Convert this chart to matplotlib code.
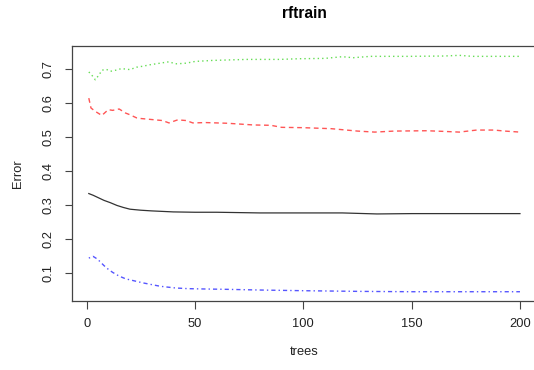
import matplotlib
matplotlib.use("Agg")
import matplotlib.pyplot as plt

plt.rcParams['font.family'] = ['Liberation Sans', 'DejaVu Sans']

# Error rates of the random forest as the number of trees grows
oob_trees = [1, 3, 5, 8, 11, 14, 17, 20, 25, 30, 40, 50, 60, 80, 100, 118, 134, 150, 170, 200]
oob_err = [0.333, 0.328, 0.322, 0.313, 0.306, 0.298, 0.292, 0.287, 0.284, 0.282,
           0.279, 0.278, 0.278, 0.276, 0.276, 0.276, 0.273, 0.274, 0.274, 0.274]

red_trees = [1, 2, 4, 7, 10, 12, 15, 18, 20, 23, 25, 30, 35, 38, 42, 46, 49, 55, 65, 77,
             85, 90, 100, 113, 125, 133, 142, 157, 165, 172, 180, 188, 193, 200]
red_err = [0.614, 0.585, 0.575, 0.563, 0.580, 0.578, 0.582, 0.570, 0.565, 0.556,
           0.554, 0.551, 0.548, 0.541, 0.550, 0.548, 0.541, 0.542, 0.540, 0.535,
           0.534, 0.528, 0.527, 0.524, 0.517, 0.514, 0.517, 0.518, 0.516, 0.514,
           0.520, 0.520, 0.517, 0.514]

green_trees = [1, 2, 4, 6, 7, 9, 11, 14, 16, 20, 23, 26, 29, 34, 38, 41, 44, 46, 50, 58,
               74, 89, 98, 110, 118, 123, 131, 149, 165, 172, 178, 190, 200]
green_err = [0.691, 0.685, 0.668, 0.685, 0.696, 0.699, 0.693, 0.697, 0.701, 0.698,
             0.705, 0.708, 0.712, 0.717, 0.721, 0.715, 0.716, 0.717, 0.722, 0.725,
             0.728, 0.728, 0.730, 0.731, 0.736, 0.733, 0.737, 0.737, 0.738, 0.740,
             0.737, 0.737, 0.737]

blue_trees = [1, 3, 5, 8, 10, 12, 15, 18, 22, 26, 30, 34, 41, 47, 55, 65, 80, 100, 126, 150, 200]
blue_err = [0.143, 0.148, 0.140, 0.121, 0.110, 0.101, 0.090, 0.082, 0.076, 0.070,
            0.065, 0.060, 0.055, 0.053, 0.052, 0.051, 0.049, 0.047, 0.045, 0.044, 0.044]

x_ticks = [0, 50, 100, 150, 200]
y_ticks = [0.1, 0.2, 0.3, 0.4, 0.5, 0.6, 0.7]

fig = plt.figure(figsize=(5.34, 3.70), dpi=100)
ax = fig.add_axes([0.134, 0.186, 0.872, 0.690])

ax.plot(oob_trees, oob_err, color='#333333', lw=0.9)
ax.plot(red_trees, red_err, color='#ff5555', lw=1.0, dashes=(3.4, 2.6))
ax.plot(green_trees, green_err, color='#66dd55', lw=1.0, dashes=(1.0, 2.2))
ax.plot(blue_trees, blue_err, color='#5555ff', lw=1.0, dashes=(1.0, 2.2, 3.0, 2.2))

ax.margins(x=0.04, y=0.04)
ax.set_xticks(x_ticks)
ax.set_xticklabels([str(v) for v in x_ticks])
ax.set_yticks(y_ticks)
ax.set_yticklabels([f"{v:.1f}" for v in y_ticks], rotation=90, va='center')

for s in ax.spines.values():
    s.set_color('#444444')
    s.set_linewidth(0.9)

ax.tick_params(axis='both', length=5.4, width=0.8, color='#444444',
               labelsize=9.3, labelcolor='#222222')
ax.tick_params(axis='x', pad=7)
ax.tick_params(axis='y', pad=7)

ax.set_xlabel('trees', fontsize=9.3, labelpad=11, color='#222222')
ax.set_ylabel('Error', fontsize=9.3, labelpad=13, color='#222222')
ax.set_title('rftrain', fontsize=11.2, fontweight='bold', pad=20)

fig.savefig('out.png', dpi=100)
